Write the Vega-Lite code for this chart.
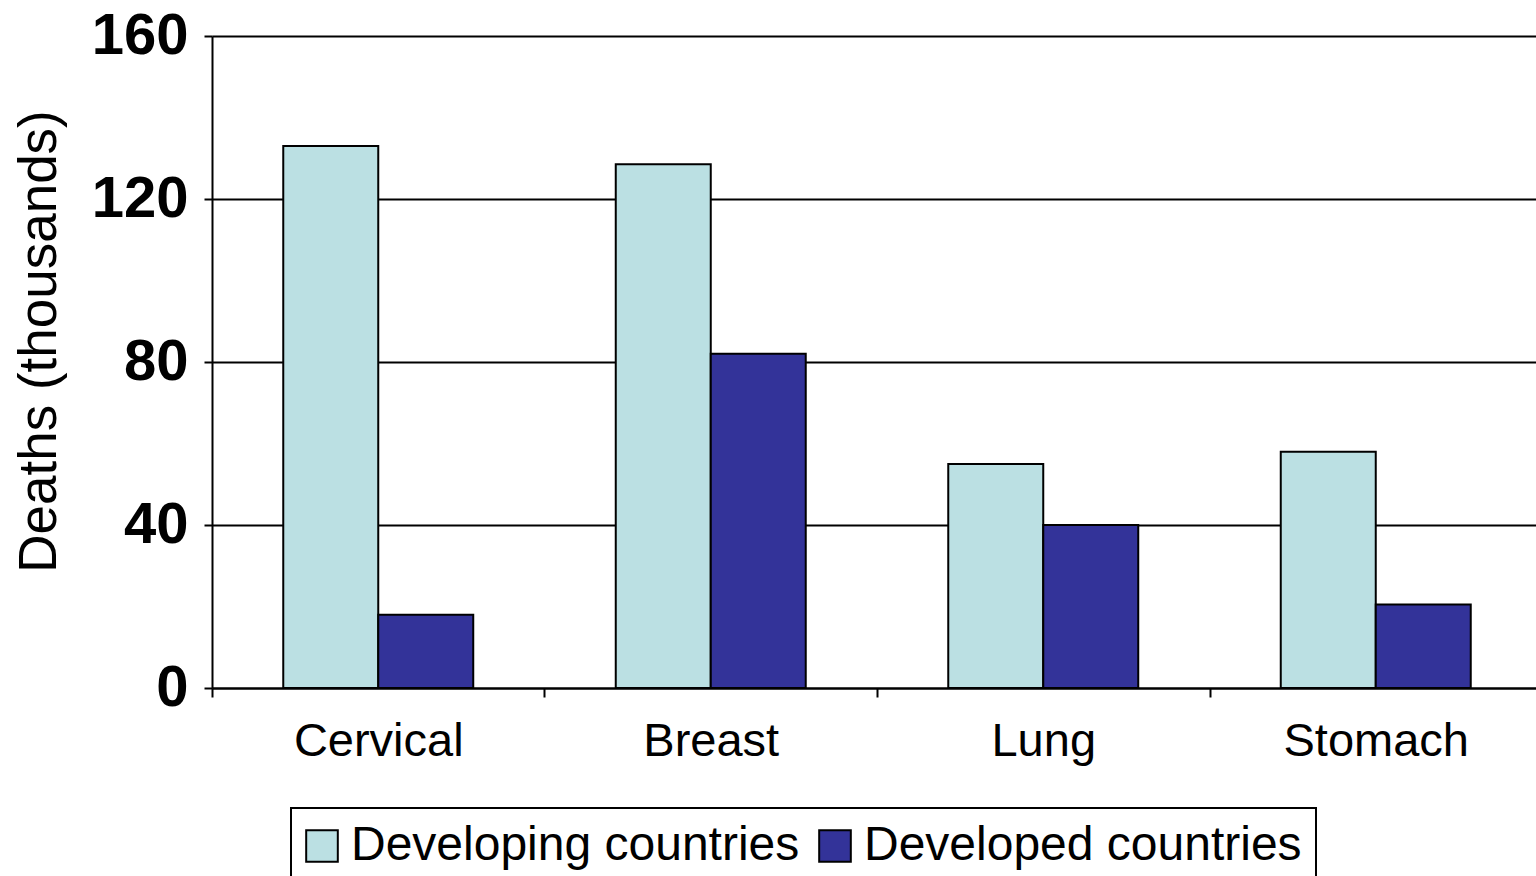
{
  "$schema": "https://vega.github.io/schema/vega-lite/v6.json",
  "autosize": {"type": "none"},
  "width": 1330,
  "height": 652,
  "padding": {"left": 212, "top": 36, "right": 0, "bottom": 188},
  "background": "white",
  "data": {
    "values": [
      {"cancer": "Cervical", "group": "Developing countries", "deaths": 133},
      {"cancer": "Cervical", "group": "Developed countries", "deaths": 18},
      {"cancer": "Breast", "group": "Developing countries", "deaths": 128.5},
      {"cancer": "Breast", "group": "Developed countries", "deaths": 82},
      {"cancer": "Lung", "group": "Developing countries", "deaths": 55},
      {"cancer": "Lung", "group": "Developed countries", "deaths": 40},
      {"cancer": "Stomach", "group": "Developing countries", "deaths": 58},
      {"cancer": "Stomach", "group": "Developed countries", "deaths": 20.5}
    ]
  },
  "mark": {"type": "bar", "stroke": "black", "strokeWidth": 2},
  "encoding": {
    "x": {
      "field": "cancer",
      "type": "nominal",
      "sort": ["Cervical", "Breast", "Lung", "Stomach"],
      "scale": {"paddingInner": 0.4286, "paddingOuter": 0.2143},
      "axis": {
        "title": null,
        "labelAngle": 0,
        "labelFont": "Liberation Sans",
        "labelFontSize": 47,
        "labelColor": "black",
        "labelPadding": 21,
        "labelLimit": 1000,
        "tickOffset": -166.25,
        "labelOffset": 166.25,
        "tickSize": 9,
        "tickWidth": 2,
        "tickColor": "black",
        "domainColor": "black",
        "domainWidth": 2,
        "grid": false
      }
    },
    "xOffset": {
      "field": "group",
      "type": "nominal",
      "sort": ["Developing countries", "Developed countries"],
      "scale": {"paddingInner": 0, "paddingOuter": 0}
    },
    "y": {
      "field": "deaths",
      "type": "quantitative",
      "scale": {"domain": [0, 160], "nice": false},
      "axis": {
        "title": "Deaths (thousands)",
        "titleFont": "Liberation Sans",
        "titleFontSize": 53,
        "titleFontWeight": "normal",
        "titleColor": "black",
        "titlePadding": 25,
        "titleY": 305,
        "values": [0, 40, 80, 120, 160],
        "labelFont": "Liberation Sans",
        "labelFontSize": 58,
        "labelFontWeight": "bold",
        "labelColor": "black",
        "labelPadding": 16,
        "tickSize": 8,
        "tickWidth": 2,
        "tickColor": "black",
        "domainColor": "black",
        "domainWidth": 2,
        "grid": true,
        "gridColor": "black",
        "gridWidth": 2,
        "gridOpacity": 1
      }
    },
    "color": {
      "field": "group",
      "type": "nominal",
      "scale": {
        "domain": ["Developing countries", "Developed countries"],
        "range": ["#BBE0E3", "#333399"]
      },
      "legend": {
        "title": null,
        "orient": "none",
        "legendX": 79,
        "legendY": 772,
        "direction": "horizontal",
        "padding": 14,
        "strokeColor": "black",
        "fillColor": "white",
        "labelFont": "Liberation Sans",
        "labelFontSize": 48,
        "labelColor": "black",
        "labelLimit": 1000,
        "labelOffset": 5,
        "columnPadding": 15,
        "symbolOffset": -7,
        "symbolType": "square",
        "symbolSize": 1000,
        "symbolStrokeColor": "black",
        "symbolStrokeWidth": 2,
        "symbolOpacity": 1
      }
    }
  },
  "config": {
    "view": {"stroke": null},
    "legend": {"strokeWidth": 2}
  }
}
